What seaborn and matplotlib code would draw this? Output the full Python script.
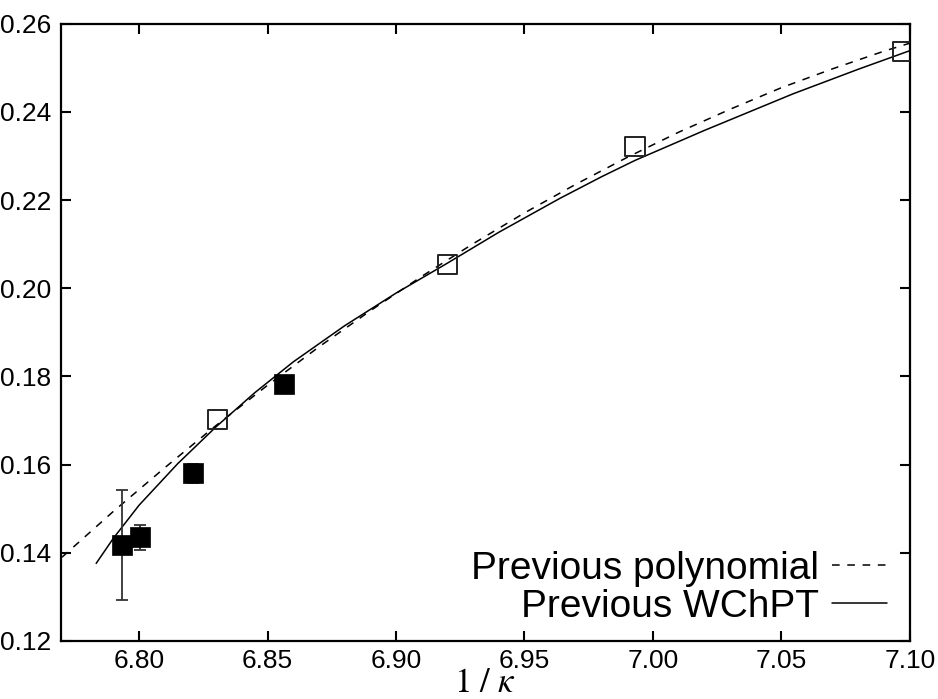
import matplotlib
matplotlib.use("Agg")
import matplotlib.pyplot as plt
import seaborn as sns
import pandas as pd

# ---- data ----
open_x = [6.8304, 6.9202, 6.9930, 7.0973]
open_y = [0.1703, 0.2054, 0.2321, 0.2538]

filled_x = [6.7934, 6.8004, 6.8210, 6.8566]
filled_y = [0.1417, 0.1435, 0.1580, 0.1783]
filled_err = [0.0125, 0.0029, 0.0022, 0.0012]

# "Previous polynomial" curve (dashed)
poly_x = [6.770, 6.790, 6.810, 6.830, 6.850, 6.870, 6.890, 6.910, 6.930,
          6.950, 6.970, 6.990, 7.010, 7.030, 7.050, 7.070, 7.090, 7.100]
poly_y = [0.1390, 0.1494, 0.1593, 0.1689, 0.1780, 0.1867, 0.1949, 0.2027, 0.2101,
          0.2171, 0.2236, 0.2297, 0.2354, 0.2406, 0.2455, 0.2498, 0.2538, 0.2556]

# "Previous WChPT" curve (solid)
wchpt_x = [6.7833, 6.790, 6.800, 6.815, 6.830, 6.845, 6.860, 6.880, 6.900,
           6.920, 6.940, 6.9638, 6.980, 6.993, 7.020, 7.0545, 7.080, 7.100]
wchpt_y = [0.1376, 0.1433, 0.1508, 0.1602, 0.1686, 0.1763, 0.1833, 0.1915, 0.1989,
           0.2057, 0.2127, 0.2204, 0.2253, 0.2290, 0.2358, 0.2441, 0.2497, 0.2539]

xticks = [6.80, 6.85, 6.90, 6.95, 7.00, 7.05, 7.10]
yticks = [0.12, 0.14, 0.16, 0.18, 0.20, 0.22, 0.24, 0.26]

sns.set_theme(style="white")
plt.rcParams['font.family'] = ['Liberation Sans', 'DejaVu Sans']
plt.rcParams['mathtext.fontset'] = 'stix'
plt.rcParams['text.color'] = 'black'
plt.rcParams['axes.labelcolor'] = 'black'

fig = plt.figure(figsize=(9.38, 6.99), dpi=100)
ax = fig.add_axes([0.065, 0.083, 0.905, 0.883])

poly_df = pd.DataFrame({"x": poly_x, "y": poly_y})
wchpt_df = pd.DataFrame({"x": wchpt_x, "y": wchpt_y})

sns.lineplot(data=poly_df, x="x", y="y", ax=ax, color="black", lw=1.1,
             label="Previous polynomial", sort=False, estimator=None)
ax.lines[-1].set_dashes((5, 5))
sns.lineplot(data=wchpt_df, x="x", y="y", ax=ax, color="black", lw=1.1,
             label="Previous WChPT", sort=False, estimator=None)

ax.errorbar(filled_x, filled_y, yerr=filled_err, fmt="none", ecolor="#333333",
            elinewidth=1.3, capsize=4, capthick=1.3, zorder=3)
sns.scatterplot(x=filled_x, y=filled_y, ax=ax, marker="s", s=190,
                color="black", edgecolor="black", linewidth=0.5, zorder=4, legend=False)
sns.scatterplot(x=open_x, y=open_y, ax=ax, marker="s", s=190,
                facecolor="none", edgecolor="#222222", linewidth=1.4, zorder=4, legend=False)

ax.set_xlim(6.7696, 7.10)
ax.set_ylim(0.12, 0.26)
ax.set_xticks(xticks)
ax.set_xticklabels([f"{v:.2f}" for v in xticks])
ax.set_yticks(yticks)
ax.set_yticklabels([f"{v:.2f}" for v in yticks])

ax.tick_params(direction="in", length=7, width=1.5, labelsize=19,
               top=True, right=True, bottom=True, left=True, colors="black")
ax.tick_params(axis="x", pad=6)
ax.tick_params(axis="y", pad=7)
for s in ax.spines.values():
    s.set_visible(True)
    s.set_linewidth(1.6)
    s.set_color("black")

ax.set_xlabel(r"$1\ /\ \kappa$", fontsize=25, labelpad=-5, color="black")
ax.set_ylabel("")

leg = ax.legend(loc="lower right", frameon=False, fontsize=28, markerfirst=False,
                handlelength=1.4, handletextpad=0.35, labelspacing=0.05,
                borderaxespad=0.0, bbox_to_anchor=(0.991, 0.001), labelcolor="black")
for h in leg.get_lines():
    h.set_linewidth(1.1)

fig.savefig("out.png", dpi=100)
